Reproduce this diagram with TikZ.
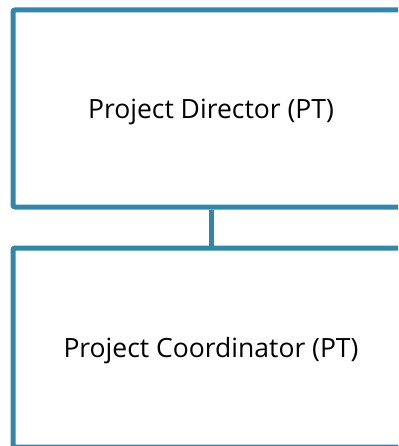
\documentclass[tikz,border=0pt]{standalone}
\usepackage{fontspec}
\setmainfont{Open Sans}
\definecolor{orgblue}{RGB}{52,134,168}
\tikzset{
  rolebox/.style={draw=orgblue, line width=5pt, rounded corners=2pt,
    minimum width=396pt, minimum height=197pt, inner sep=0pt, text depth=0pt,
    font=\fontsize{26.5}{30}\selectfont},
  link/.style={draw=orgblue, line width=5pt}
}
\begin{document}
\begin{tikzpicture}[x=1pt,y=-1pt]
	\useasboundingbox (0,0) rectangle (398,446);
	\clip (0,0) rectangle (398,446);
	\node[rolebox] (director) at (211,108.5) {Project Director (PT)};
	\node[rolebox, minimum height=199pt] (coordinator) at (211,347.5) {Project Coordinator (PT)};
	\draw[link] (director.south) -- (coordinator.north);
\end{tikzpicture}
\end{document}
